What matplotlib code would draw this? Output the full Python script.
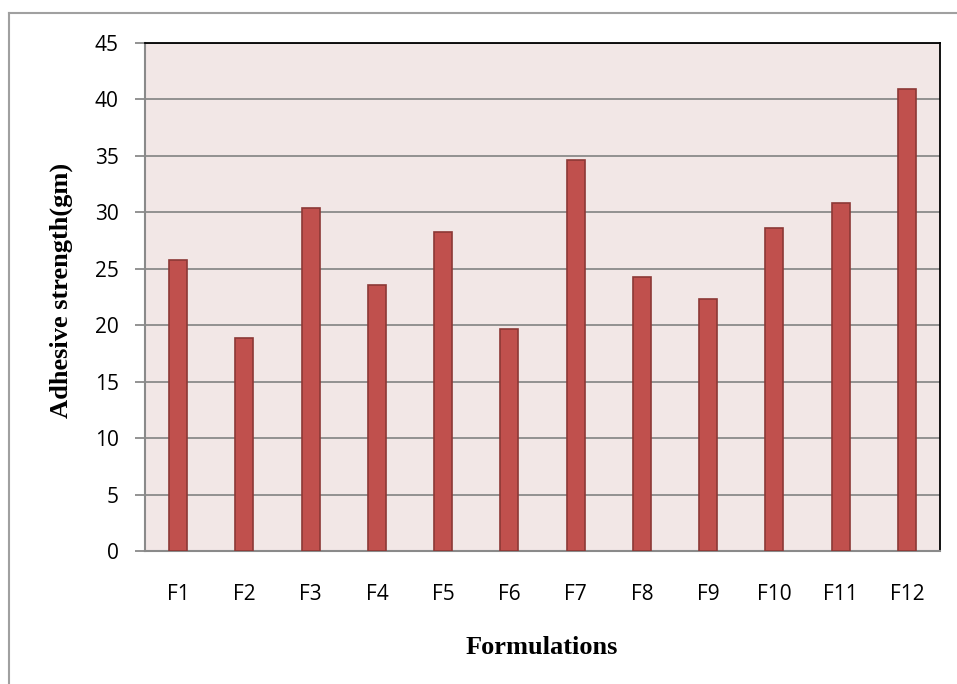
import matplotlib.pyplot as plt
from matplotlib.lines import Line2D

formulations = ["F1", "F2", "F3", "F4", "F5", "F6", "F7", "F8", "F9", "F10", "F11", "F12"]
strength = [25.8, 18.9, 30.4, 23.6, 28.3, 19.7, 34.6, 24.3, 22.3, 28.6, 30.8, 40.9]

W, H = 957, 684
fig = plt.figure(figsize=(W / 100, H / 100), dpi=100)
ax = fig.add_axes([145 / W, 1 - 551 / H, (940 - 145) / W, (551 - 43) / H])
ax.set_facecolor("#F2E7E6")

x = range(len(formulations))
ax.bar(x, strength, width=0.27, color="#C0504D", edgecolor="#8C3836", linewidth=1.2, zorder=3)

ax.set_xlim(-0.5, len(formulations) - 0.5)
ax.set_ylim(0, 45)
ax.set_yticks(range(0, 46, 5))
ax.set_xticks(list(x))
ax.set_xticklabels(formulations)
ax.yaxis.grid(True, color="#8A8A8A", linewidth=1.3, zorder=1)

for side in ["left", "bottom"]:
    ax.spines[side].set_color("#8A8A8A")
    ax.spines[side].set_linewidth(1.5)
for side in ["top", "right"]:
    ax.spines[side].set_color("black")
    ax.spines[side].set_linewidth(1.3)

ax.tick_params(axis="y", length=7, color="#8A8A8A", width=1.3, labelsize=15, pad=12)
ax.tick_params(axis="x", length=0, labelsize=15, pad=24)
for lbl in ax.get_xticklabels() + ax.get_yticklabels():
    lbl.set_family("Open Sans")

# axis titles
fig.text(542 / W, 1 - 647 / H, "Formulations", fontsize=19, fontweight="bold",
         family="Liberation Serif", ha="center", va="center")
fig.text(61 / W, 1 - 290 / H, "Adhesive strength(gm)", fontsize=19, fontweight="bold",
         family="Liberation Serif", ha="center", va="center", rotation=90)

# outer chart border
fig.add_artist(Line2D([9 / W, 9 / W], [0, 1 - 13 / H], color="#A0A0A0", linewidth=1.5))
fig.add_artist(Line2D([9 / W, 1], [1 - 13 / H, 1 - 13 / H], color="#A0A0A0", linewidth=1.5))

fig.savefig("out.png", dpi=100)
